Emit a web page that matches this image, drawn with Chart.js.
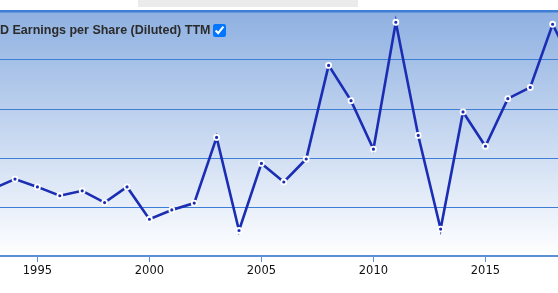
<!DOCTYPE html>
<html>
<head>
<meta charset="utf-8">
<script src="https://cdn.jsdelivr.net/npm/chart.js@4.4.0/dist/chart.umd.min.js"></script>
<style>
  html, body { margin: 0; padding: 0; background: #fff; overflow: hidden; }
  #wrap { position: relative; width: 558px; height: 293px; }
  #topbox { position: absolute; left: 138px; top: 0; width: 220px; height: 7px; background: #ebebeb; }
  #legend {
    position: absolute; left: 0; top: 22px; height: 16px;
    font: bold 12.5px "Liberation Sans", Arial, sans-serif; color: #2b2b2b;
    white-space: nowrap; display: flex; align-items: center;
  }
  #legend input { margin: 0 0 0 3px; width: 13px; height: 13px; }
</style>
</head>
<body>
<div id="wrap">
  <canvas id="chart" width="558" height="293"></canvas>
  <div id="topbox"></div>
  <div id="legend">D Earnings per Share (Diluted) TTM<input type="checkbox" checked></div>
</div>
<script>
// years and values (units = gridline steps)
const years = [1993, 1994, 1995, 1996, 1997, 1998, 1999, 2000, 2001, 2002, 2003, 2004, 2005,
  2006, 2007, 2008, 2009, 2010, 2011, 2012, 2013, 2014, 2015, 2016, 2017, 2018, 2019];
const eps = [1.37, 1.57, 1.41, 1.23, 1.33, 1.09, 1.41, 0.75, 0.94, 1.08, 2.42, 0.52, 1.89,
  1.51, 1.98, 3.89, 3.17, 2.18, 4.77, 2.46, 0.55, 2.94, 2.24, 3.21, 3.44, 4.73, 3.8];
const xTicks = [1995, 2000, 2005, 2010, 2015];

const bgPlugin = {
  id: 'bg',
  beforeDraw(chart) {
    const { ctx, chartArea: a } = chart;
    const g = ctx.createLinearGradient(0, a.top, 0, a.bottom);
    g.addColorStop(0, '#8eb0e1');
    g.addColorStop(1, '#ffffff');
    ctx.save();
    ctx.fillStyle = g;
    ctx.fillRect(a.left, a.top, a.right - a.left, a.bottom - a.top);
    ctx.restore();
  }
};

new Chart(document.getElementById('chart'), {
  type: 'line',
  data: {
    datasets: [{
      data: years.map((y, i) => ({ x: y, y: eps[i] })),
      borderColor: '#1b2db3',
      borderWidth: 2.6,
      pointRadius: 2.5,
      pointBorderWidth: 1.8,
      pointBackgroundColor: '#1b2db3',
      pointBorderColor: '#ffffff',
      tension: 0
    }]
  },
  options: {
    responsive: false,
    animation: false,
    layout: { autoPadding: false, padding: { top: 11, left: 0, right: 0, bottom: 0 } },
    plugins: { legend: { display: false }, tooltip: { enabled: false } },
    scales: {
      x: {
        type: 'linear',
        min: 1993.33,
        max: 2018.24,
        afterBuildTicks(scale) { scale.ticks = xTicks.map(v => ({ value: v })); },
        afterFit(scale) { scale.height = 37; },
        ticks: {
          callback: v => String(v),
          color: '#111',
          font: { family: 'DejaVu Sans', size: 11.5 },
          padding: 2,
          maxRotation: 0
        },
        grid: { drawOnChartArea: false, drawTicks: true, tickLength: 6, color: '#5b8fd6', lineWidth: 1 },
        border: { display: true, color: '#5b8fd6', width: 2 }
      },
      y: {
        min: 0,
        max: 5,
        afterFit(scale) { scale.width = 0; },
        ticks: { display: false, stepSize: 1 },
        grid: {
          drawTicks: false,
          color: ctx => ctx.tick.value === 0 ? 'rgba(0,0,0,0)' : '#3f7ed6',
          lineWidth: ctx => ctx.tick.value === 5 ? 2.5 : 1
        },
        border: { display: false }
      }
    }
  },
  plugins: [bgPlugin]
});
</script>
</body>
</html>
